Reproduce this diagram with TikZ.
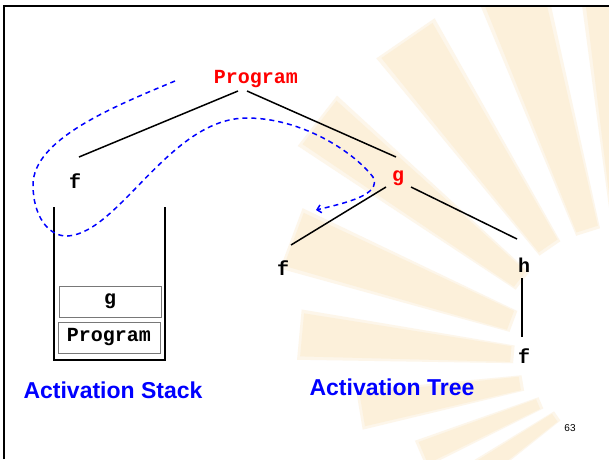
\documentclass[tikz,border=0pt]{standalone}
\usepackage{fontspec}
\setmainfont{Liberation Sans}
\setmonofont{Liberation Mono}
\usetikzlibrary{arrows.meta}
\definecolor{ray}{RGB}{252,240,218}
\definecolor{raysoft}{RGB}{253,246,234}
\definecolor{pred}{RGB}{255,0,0}
\definecolor{pblue}{RGB}{0,0,255}
\definecolor{boxgray}{RGB}{120,120,120}
\newcommand\myray[4]{\fill[raysoft] (-#1+0.6:#3-3) -- (-#1+0.6:#4+3) -- (-#2-0.6:#4+3) -- (-#2-0.6:#3-3) -- cycle;
  \fill[ray] (-#1:#3) -- (-#1:#4) -- (-#2:#4) -- (-#2:#3) -- cycle;}
\begin{document}
\begin{tikzpicture}[x=1pt,y=-1pt,
  mono/.style={font=\fontsize{20}{22}\selectfont\ttfamily\bfseries, inner sep=0pt, anchor=base},
  lbl/.style={font=\fontsize{23}{26}\selectfont\bfseries, text=pblue, inner sep=0pt, anchor=base},
  edge/.style={line width=1.5pt, black},
  stackbox/.style={draw=boxgray, line width=0.9pt, minimum width=102pt, minimum height=31pt, inner sep=0pt, font=\fontsize{20}{22}\selectfont\ttfamily\bfseries},
  trace/.style={pblue, line width=1.5pt, dash pattern=on 5pt off 4pt}]
\useasboundingbox (0,0) rectangle (609,459);
\fill[white] (0,0) rectangle (609,459);
% background rays
\begin{scope}
\clip (5,7) rectangle (609,459);
\begin{scope}[shift={(630,365)}]
\myray{84}{97}{143}{420}
\myray{103}{112}{143}{405}
\myray{120}{129}{145}{395}
\myray{138}{146}{140}{395}
\myray{155}{164}{128}{360}
\myray{171}{178.5}{120}{330}
\myray{186}{193}{112}{272}
\myray{200}{206}{100}{225}
\myray{212}{218}{92}{180}
\end{scope}
\end{scope}
% frame
\draw[line width=2.5pt] (4,459) -- (4,6) -- (609,6);
% tree nodes
\node[mono, text=pred] (prog) at (256,83) {Program};
\node[mono] (f1) at (75,188) {f};
\node[mono, text=pred] (g) at (398,181.5) {g};
\node[mono] (f2) at (283,275) {f};
\node[mono] (h) at (524,272) {h};
\node[mono] (f3) at (524,363) {f};
% edge end points
\coordinate (pa) at (238,91);
\coordinate (pb) at (247,91);
\coordinate (fa) at (79,157);
\coordinate (ga) at (396,157);
\coordinate (gb) at (386,187);
\coordinate (gc) at (411,187);
\coordinate (f2a) at (291,245);
\coordinate (ha) at (517,239);
\coordinate (hb) at (522,278);
\coordinate (f3a) at (522,337);
\draw[edge] (pa) -- (fa);
\draw[edge] (pb) -- (ga);
\draw[edge] (gb) -- (f2a);
\draw[edge] (gc) -- (ha);
\draw[edge] (hb) -- (f3a);
% stack
\draw[line width=2pt] (54,207) -- (54,360) -- (165,360) -- (165,207);
\node[stackbox] (sg) at (110,301.5) {g};
\node[stackbox] (sp) at (109,337.5) {Program};
% labels
\node[lbl] (ls) at (113,398) {Activation Stack};
\node[lbl] (lt) at (392,395) {Activation Tree};
\node[font=\fontsize{10}{12}\selectfont, inner sep=0pt] (pg) at (570,428.5) {63};
% dashed trace
\coordinate (t0) at (175,81);
\coordinate (t1) at (316,210);
\draw[trace, -{Straight Barb[length=4pt,width=8pt]}] (t0) .. controls (110,108) and (33,140) .. (33,185)
  .. controls (33,215) and (48,237) .. (68,236)
  .. controls (120,232) and (170,118) .. (247,118)
  .. controls (300,118) and (352,150) .. (373,177)
  .. controls (382,195) and (345,203) .. (t1);
\end{tikzpicture}
\end{document}
